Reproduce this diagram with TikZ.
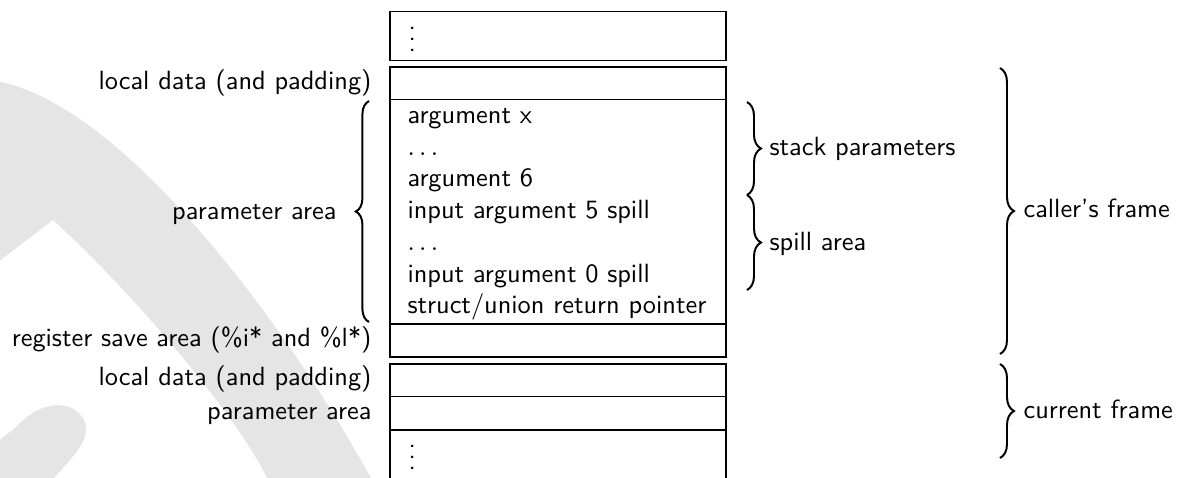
\documentclass[tikz,border=0pt]{standalone}
\usetikzlibrary{fit,decorations.pathreplacing}
\begin{document}
\begin{tikzpicture}[x=0.3794pt, y=-0.3794pt, font=\sffamily,
  wm/.style={fill=black!10, draw=none},
  slot/.style={draw, line width=0.5pt, inner sep=0pt},
  txt/.style={inner sep=0pt},
  brc/.style={decorate, line width=0.75pt, decoration={brace, amplitude=#1}},
  brc/.default=5.3pt]
\useasboundingbox (0,0) rectangle (1185,477);
\clip (0,0) rectangle (1185,477);

% light grey backdrop shapes
\fill[wm] (-10,80) .. controls (120,97) and (290,330) .. (372,480)
  -- (268,480) .. controls (235,410) and (120,280) .. (53,220)
  -- (-10,268) -- cycle;
\fill[wm] (-10,448) -- (15,428) .. controls (40,400) and (72,398) .. (84,420)
  .. controls (92,438) and (75,455) .. (52,480) -- (-10,480) -- cycle;

% stack slots
\node[slot, fit={(390,11.5) (726,60.7)}] (b0) {};
\node[slot, fit={(390,67) (726,99.5)}] (b1) {};
\node[slot, fit={(390,99.5) (726,324)}] (b2) {};
\node[slot, fit={(390,324) (726,357)}] (b3) {};
\node[slot, fit={(390,364) (726,396.5)}] (b4) {};
\node[slot, fit={(390,396.5) (726,430)}] (b5) {};
\node[slot, fit={(390,430) (726,495)}] (b6) {};

% slot contents
\node[txt, anchor=base west] (t0) at (408,51) {\vdots};
\node[txt, anchor=base west] (a1) at (407,123) {argument x};
\node[txt, anchor=base west] (a2) at (407,155) {$\ldots$};
\node[txt, anchor=base west] (a3) at (407,186.5) {argument 6};
\node[txt, anchor=base west] (a4) at (407,218) {input argument 5 spill};
\node[txt, anchor=base west] (a5) at (407,250.5) {$\ldots$};
\node[txt, anchor=base west] (a6) at (407,282) {input argument 0 spill};
\node[txt, anchor=base west] (a7) at (407,313.5) {struct/union return pointer};
\node[txt, anchor=base west] (t6) at (408,469) {\vdots};

% labels on the left
\node[txt, anchor=base east] (ll1) at (372,89.5) {local data (and padding)};
\node[txt, anchor=base east] (lpa) at (337,219) {parameter area};
\node[txt, anchor=base east] (lrs) at (372,346) {register save area (\%i* and \%l*)};
\node[txt, anchor=base east] (ll2) at (372,385.5) {local data (and padding)};
\node[txt, anchor=base east] (lp2) at (372,419.5) {parameter area};

% labels on the right
\node[txt, anchor=base west] (rsp) at (769,155) {stack parameters};
\node[txt, anchor=base west] (rsa) at (769,250) {spill area};
\node[txt, anchor=base west] (rcf) at (1023,217) {caller's frame};
\node[txt, anchor=base west] (rcu) at (1023,418) {current frame};

% braces
\draw[brc=5pt] (369,322) -- (369,101);
\draw[brc] (747,102) -- (747,195);
\draw[brc] (747,195) -- (747,290);
\draw[brc] (1000,68) -- (1000,354);
\draw[brc] (1000,364) -- (1000,458);
\end{tikzpicture}
\end{document}
